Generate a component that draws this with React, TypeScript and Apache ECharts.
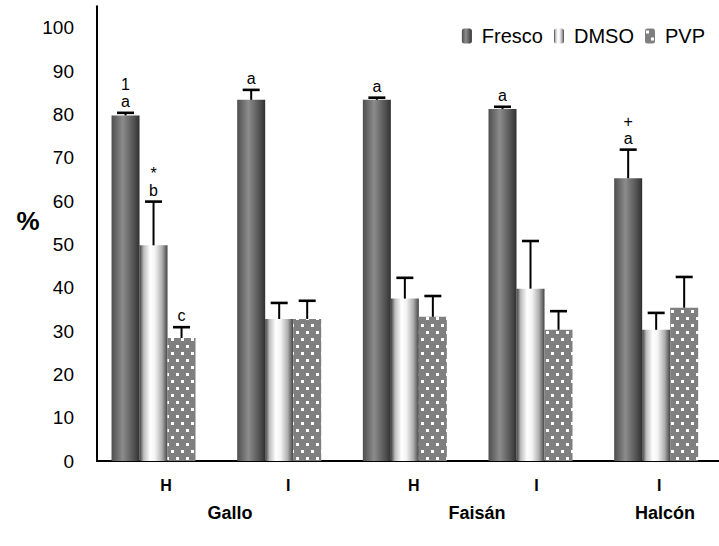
import React, { useEffect, useRef } from 'react';
import * as echarts from 'echarts';

const categories = ['H', 'I', 'H', 'I', 'I'];
const groupNames = ['Gallo', 'Faisán', 'Halcón'];
const seriesNames = ['Fresco', 'DMSO', 'PVP'];
const fresco = [79.8, 83.4, 83.4, 81.3, 65.3];
const frescoErr = [0.6, 2.3, 0.5, 0.5, 6.6];
const dmso = [49.8, 32.8, 37.5, 39.8, 30.3];
const dmsoErr = [10.1, 3.7, 4.8, 11.0, 3.9];
const pvp = [28.4, 32.8, 33.3, 30.3, 35.4];
const pvpErr = [2.5, 4.2, 4.8, 4.3, 7.1];
const frescoLabels = ['1\na', 'a', 'a', 'a', '+\na'];
const dmsoLabels = ['*\nb', '', '', '', ''];
const pvpLabels = ['c', '', '', '', ''];
const yMax = 105;
const yInterval = 10;

const BAR_W = 28;
const FONT = "'Liberation Sans', Arial, sans-serif";

function makePattern(): string {
  const c = document.createElement('canvas');
  c.width = 10;
  c.height = 14;
  const ctx = c.getContext('2d')!;
  ctx.fillStyle = '#7f7f7f';
  ctx.fillRect(0, 0, 10, 14);
  ctx.fillStyle = '#ffffff';
  ctx.fillRect(1, 2, 3, 3);
  ctx.fillRect(6, 9, 3, 3);
  return c.toDataURL();
}

export default function App() {
  const ref = useRef<HTMLDivElement>(null);
  useEffect(() => {
    document.body.style.margin = '0';
    const chart = echarts.init(ref.current!, undefined, { renderer: 'svg' });
    const frescoFill = new echarts.graphic.LinearGradient(0, 0, 1, 0, [
      { offset: 0, color: '#4e4e4e' },
      { offset: 0.4, color: '#8c8c8c' },
      { offset: 0.85, color: '#4a4a4a' },
      { offset: 1, color: '#303030' },
    ]);
    const dmsoFill = new echarts.graphic.LinearGradient(0, 0, 1, 0, [
      { offset: 0, color: '#3c3c3c' },
      { offset: 0.15, color: '#bdbdbd' },
      { offset: 0.38, color: '#ffffff' },
      { offset: 0.55, color: '#f4f4f4' },
      { offset: 0.8, color: '#b0b0b0' },
      { offset: 1, color: '#444444' },
    ]);
    const pvpFill: any = {
      image: makePattern(),
      repeat: 'repeat',
      imageWidth: 10,
      imageHeight: 14,
    };

    const makeErr = (vals: number[], errs: number[], labels: string[], offset: number) => ({
      type: 'custom',
      z: 10,
      silent: true,
      encode: { x: 0, y: 1 },
      data: vals.map((v, i) => [i, v, errs[i]]),
      renderItem: (params: any, api: any) => {
        const i = api.value(0);
        const v = api.value(1);
        const e = api.value(2);
        const b = api.coord([i, v]);
        const t = api.coord([i, v + e]);
        const x = b[0] + offset;
        const label = labels[params.dataIndex];
        const children: any[] = [
          { type: 'line', shape: { x1: x, y1: b[1], x2: x, y2: t[1] }, style: { stroke: '#000', lineWidth: 2 } },
          { type: 'line', shape: { x1: x - 8.5, y1: t[1], x2: x + 8.5, y2: t[1] }, style: { stroke: '#000', lineWidth: 2.6 } },
        ];
        if (label) {
          children.push({
            type: 'text',
            style: {
              text: label,
              x,
              y: t[1] - 3,
              align: 'center',
              verticalAlign: 'bottom',
              fontSize: 16,
              lineHeight: 17,
              fontFamily: FONT,
              fill: '#000',
            },
          });
        }
        return { type: 'group', children };
      },
    });

    const pads = [25, 18, 18, 12, 6];
    const rich: any = {};
    pads.forEach((p, i) => {
      rich['p' + i] = {
        padding: [0, 0, 0, p],
        fontWeight: 'bold',
        fontSize: 16,
        fontFamily: FONT,
        color: '#000',
      };
    });

    const groupText = (text: string, x: number) => ({
      type: 'text',
      x,
      y: 513,
      style: { text, fontSize: 18, fontWeight: 'bold', fontFamily: FONT, fill: '#000', align: 'center', verticalAlign: 'middle' },
    });

    const option: any = {
      animation: false,
      backgroundColor: '#fff',
      grid: { left: 90.7, width: 638, top: 6.3, bottom: 85 },
      legend: {
        data: seriesNames,
        right: 9,
        top: 21,
        itemWidth: 10,
        itemHeight: 15,
        itemGap: 11,
        textStyle: { fontSize: 20, fontFamily: FONT, color: '#000', padding: [0, 0, 0, 5] },
      },
      xAxis: {
        type: 'category',
        data: categories,
        axisLine: { show: false },
        axisTick: { show: false },
        axisLabel: {
          margin: 16,
          formatter: (v: string, i: number) => `{p${i}|${v}}`,
          rich,
        },
      },
      yAxis: {
        type: 'value',
        min: 0,
        max: yMax,
        interval: yInterval,
        offset: -6.3,
        splitLine: { show: false },
        axisTick: { show: false },
        axisLine: { show: true, lineStyle: { color: '#000', width: 2 } },
        axisLabel: {
          margin: 23,
          fontSize: 19,
          fontFamily: FONT,
          color: '#000',
          formatter: (v: number) => (v % 10 === 0 && v <= 100 ? String(v) : ''),
        },
      },
      graphic: [
        { type: 'line', shape: { x1: 96, y1: 461, x2: 719, y2: 461 }, style: { stroke: '#000', lineWidth: 2 } },
        {
          type: 'text',
          x: 28,
          y: 221,
          style: { text: '%', fontSize: 26, fontWeight: 'bold', fontFamily: FONT, fill: '#000', align: 'center', verticalAlign: 'middle' },
        },
        groupText(groupNames[0], 230),
        groupText(groupNames[1], 477),
        groupText(groupNames[2], 665),
      ],
      series: [
        { name: seriesNames[0], type: 'bar', data: fresco, barWidth: BAR_W, barGap: '0%', itemStyle: { color: frescoFill } },
        { name: seriesNames[1], type: 'bar', data: dmso, barWidth: BAR_W, barGap: '0%', itemStyle: { color: dmsoFill } },
        { name: seriesNames[2], type: 'bar', data: pvp, barWidth: BAR_W, barGap: '0%', itemStyle: { color: pvpFill } },
        makeErr(fresco, frescoErr, frescoLabels, -BAR_W),
        makeErr(dmso, dmsoErr, dmsoLabels, 0),
        makeErr(pvp, pvpErr, pvpLabels, BAR_W),
      ],
    };
    chart.setOption(option);
    return () => chart.dispose();
  }, []);
  return <div ref={ref} style={{ position: 'fixed', left: 0, top: 0, width: 719, height: 546 }} />;
}
